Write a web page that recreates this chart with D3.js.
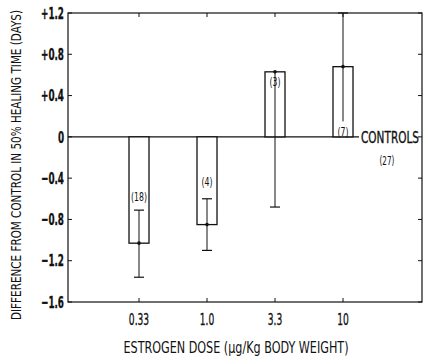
<!DOCTYPE html>
<html>
<head>
<meta charset="utf-8">
<script src="https://cdn.jsdelivr.net/npm/d3@7"></script>
<style>
  body { margin: 0; background: #fff; }
  text { font-family: "DejaVu Sans", sans-serif; fill: #111; }
  .ink { stroke: #111; stroke-width: 0.35; }
</style>
</head>
<body>
<script>
// data
var doses = ["0.33", "1.0", "3.3", "10"];
var diffs = [-1.03, -0.85, 0.63, 0.68];      // mean difference (days)
var errLow = [0.33, 0.25, 1.31, 0.53];       // whisker below mean
var errHigh = [0.32, 0.25, 0, 0.55];         // whisker above mean
var counts = ["(18)", "(4)", "(3)", "(7)"];
var countAt = [-0.58, -0.43, 0.53, 0.05];    // where the n label sits (days)
var yTicks = [1.2, 0.8, 0.4, 0, -0.4, -0.8, -1.2, -1.6];

var W = 424, H = 356;
// plot box (window.top is taken, so no "top" here)
var pLeft = 68, pRight = 422, pTop = 13, pBottom = 302;

var svg = d3.select("body").append("svg")
    .attr("width", W)
    .attr("height", H);

var x = d3.scalePoint().domain(doses).range([139, 343]);
var y = d3.scaleLinear().domain([-1.6, 1.2]).range([pBottom, pTop]);
var barW = 20;

// the original lettering is a tall condensed face, squash it sideways
var squeeze = function(px, py, k) {
    return "translate(" + px + "," + py + ") scale(" + k + ",1)";
};

// frame
svg.append("rect")
    .attr("x", pLeft).attr("y", pTop)
    .attr("width", pRight - pLeft).attr("height", pBottom - pTop)
    .attr("fill", "none").attr("stroke", "#111").attr("stroke-width", 1.2);

// inward ticks, left and right
svg.selectAll(".ytl").data(yTicks).enter().append("line")
    .attr("x1", pLeft).attr("x2", pLeft + 4)
    .attr("y1", function(d) { return y(d); }).attr("y2", function(d) { return y(d); })
    .attr("stroke", "#111");
svg.selectAll(".ytr").data(yTicks).enter().append("line")
    .attr("x1", pRight - 4).attr("x2", pRight)
    .attr("y1", function(d) { return y(d); }).attr("y2", function(d) { return y(d); })
    .attr("stroke", "#111");
// inward ticks, top and bottom
svg.selectAll(".xtb").data(doses).enter().append("line")
    .attr("x1", function(d) { return x(d); }).attr("x2", function(d) { return x(d); })
    .attr("y1", pBottom).attr("y2", pBottom - 4)
    .attr("stroke", "#111");
svg.selectAll(".xtt").data(doses).enter().append("line")
    .attr("x1", function(d) { return x(d); }).attr("x2", function(d) { return x(d); })
    .attr("y1", pTop).attr("y2", pTop + 4)
    .attr("stroke", "#111");

// y tick labels
svg.selectAll(".ylab").data(yTicks).enter().append("text")
    .attr("class", "ink")
    .attr("transform", function(d) { return squeeze(64, y(d), 0.55); })
    .attr("dy", "0.36em")
    .attr("text-anchor", "end")
    .attr("font-size", 16)
    .attr("font-weight", "bold")
    .text(function(d) {
        if (d > 0) return "+" + d.toFixed(1);
        if (d < 0) return "\u2212" + Math.abs(d).toFixed(1);
        return "0";
    });

// x tick labels
svg.selectAll(".xlab").data(doses).enter().append("text")
    .attr("class", "ink")
    .attr("transform", function(d) { return squeeze(x(d), 325, 0.57); })
    .attr("text-anchor", "middle")
    .attr("font-size", 16)
    .text(function(d) { return d; });

// zero (control) line
svg.append("line")
    .attr("x1", pLeft).attr("x2", 359)
    .attr("y1", y(0)).attr("y2", y(0))
    .attr("stroke", "#111").attr("stroke-width", 1.2);

// bars
svg.selectAll(".bar").data(diffs).enter().append("rect")
    .attr("x", function(d, i) { return x(doses[i]) - barW / 2; })
    .attr("y", function(d) { return y(Math.max(0, d)); })
    .attr("width", barW)
    .attr("height", function(d) { return Math.abs(y(d) - y(0)); })
    .attr("fill", "#fff").attr("stroke", "#111").attr("stroke-width", 1.3);

// error whiskers
var errs = diffs.map(function(d, i) {
    var lo = d - errLow[i];
    return {
        cx: x(doses[i]), lo: lo, hi: Math.min(1.2, d + errHigh[i]),
        hasHi: errHigh[i] > 0,
        loInside: d > 0 && lo > 0   // ends inside the bar, no cap drawn
    };
});
svg.selectAll(".whisk").data(errs).enter().append("line")
    .attr("x1", function(d) { return d.cx; }).attr("x2", function(d) { return d.cx; })
    .attr("y1", function(d) { return y(d.lo); }).attr("y2", function(d) { return y(d.hi); })
    .attr("stroke", "#111").attr("stroke-width", 1);
svg.selectAll(".capLo").data(errs.filter(function(d) { return !d.loInside; })).enter().append("line")
    .attr("x1", function(d) { return d.cx - 5; }).attr("x2", function(d) { return d.cx + 5; })
    .attr("y1", function(d) { return y(d.lo); }).attr("y2", function(d) { return y(d.lo); })
    .attr("stroke", "#111").attr("stroke-width", 1.2);
svg.selectAll(".capHi").data(errs.filter(function(d) { return d.hasHi; })).enter().append("line")
    .attr("x1", function(d) { return d.cx - 5; }).attr("x2", function(d) { return d.cx + 5; })
    .attr("y1", function(d) { return y(d.hi); }).attr("y2", function(d) { return y(d.hi); })
    .attr("stroke", "#111").attr("stroke-width", 1.2);

// mean dots
svg.selectAll(".dot").data(diffs).enter().append("circle")
    .attr("cx", function(d, i) { return x(doses[i]); })
    .attr("cy", function(d) { return y(d); })
    .attr("r", 1.8).attr("fill", "#111");

// n labels
svg.selectAll(".n").data(counts).enter().append("text")
    .attr("transform", function(d, i) { return squeeze(x(doses[i]), y(countAt[i]), 0.65); })
    .attr("dy", "0.36em")
    .attr("text-anchor", "middle")
    .attr("font-size", 12)
    .text(function(d) { return d; });

// controls annotation
svg.append("text")
    .attr("class", "ink")
    .attr("x", 361).attr("y", y(0)).attr("dy", "0.4em")
    .attr("font-size", 15)
    .attr("textLength", 58).attr("lengthAdjust", "spacingAndGlyphs")
    .text("CONTROLS");
svg.append("text")
    .attr("transform", squeeze(387, 160, 0.56))
    .attr("dy", "0.36em")
    .attr("text-anchor", "middle")
    .attr("font-size", 13)
    .text("(27)");

// axis titles
svg.append("text")
    .attr("x", 236).attr("y", 353)
    .attr("text-anchor", "middle")
    .attr("font-size", 16)
    .attr("textLength", 225).attr("lengthAdjust", "spacingAndGlyphs")
    .text("ESTROGEN DOSE (\u03bcg/Kg BODY WEIGHT)");
svg.append("text")
    .attr("transform", "translate(21,165) rotate(-90)")
    .attr("text-anchor", "middle")
    .attr("font-size", 14)
    .attr("textLength", 310).attr("lengthAdjust", "spacingAndGlyphs")
    .text("DIFFERENCE FROM CONTROL IN 50% HEALING TIME (DAYS)");
</script>
</body>
</html>
